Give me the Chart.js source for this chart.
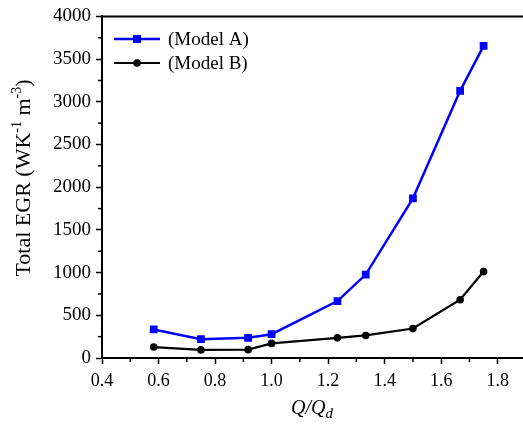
<!DOCTYPE html>
<html>
<head>
<meta charset="utf-8">
<script src="https://cdn.jsdelivr.net/npm/chart.js@4"></script>
<style>
  body { margin: 0; background: #fff; }
  canvas { display: block; }
</style>
</head>
<body>
<canvas id="myChart" width="523" height="430"></canvas>
<script>
// Q/Qd values
const ratios = [0.583, 0.75, 0.917, 1.0, 1.233, 1.333, 1.5, 1.667, 1.75];
const modelA = [334, 221, 236, 279, 667, 977, 1870, 3128, 3655];
const modelB = [128, 95, 98, 171, 236, 264, 345, 682, 1012];
const xTicks = [0.4, 0.6, 0.8, 1.0, 1.2, 1.4, 1.6, 1.8];
const yTicks = [0, 500, 1000, 1500, 2000, 2500, 3000, 3500, 4000];
const seriesNames = ['(Model A)', '(Model B)'];

const serif = "'Liberation Serif', 'Times New Roman', serif";

const toPoints = (vals) => vals.map((v, i) => ({ x: ratios[i], y: v }));

// frame, minor ticks, legend and axis titles
const extras = {
    id: 'extras',
    afterDraw(chart) {
        const ctx = chart.ctx;
        const area = chart.chartArea;
        const xs = chart.scales.x;
        const ys = chart.scales.y;
        ctx.save();
        ctx.strokeStyle = '#000';
        ctx.lineWidth = 2;
        ctx.beginPath();
        ctx.moveTo(area.left - 1, area.top);
        ctx.lineTo(chart.width, area.top);
        ctx.moveTo(area.right - 1, area.bottom);
        ctx.lineTo(chart.width, area.bottom);
        ctx.stroke();

        ctx.lineWidth = 1.5;
        for (let i = 0; i < xTicks.length; i++) {
            const v = xTicks[i] + 0.1;
            if (v > xs.max) break;
            const px = xs.getPixelForValue(v);
            ctx.beginPath();
            ctx.moveTo(px, area.bottom);
            ctx.lineTo(px, area.bottom + 4);
            ctx.stroke();
        }
        for (let i = 0; i < yTicks.length - 1; i++) {
            const py = ys.getPixelForValue(yTicks[i] + 250);
            ctx.beginPath();
            ctx.moveTo(area.left, py);
            ctx.lineTo(area.left - 4, py);
            ctx.stroke();
        }

        // legend
        chart.data.datasets.forEach((ds, i) => {
            const y = 39 + i * 24;
            ctx.strokeStyle = ds.borderColor;
            ctx.lineWidth = ds.borderWidth;
            ctx.beginPath();
            ctx.moveTo(114, y);
            ctx.lineTo(160, y);
            ctx.stroke();
            ctx.fillStyle = ds.pointBackgroundColor;
            if (ds.pointStyle === 'rect') {
                ctx.fillRect(133, y - 4, 8, 8);
            } else {
                ctx.beginPath();
                ctx.arc(137, y, 3.8, 0, Math.PI * 2);
                ctx.fill();
            }
            ctx.fillStyle = '#000';
            ctx.font = '19px ' + serif;
            ctx.textBaseline = 'middle';
            ctx.textAlign = 'left';
            ctx.fillText(seriesNames[i], 168, y + 1);
        });

        // y title with superscripts
        const parts = [
            ['Total EGR (WK', 22, 0],
            ['-1', 14, -9],
            [' m', 22, 0],
            ['-3', 14, -9],
            [')', 22, 0]
        ];
        let total = 0;
        parts.forEach(p => { ctx.font = p[1] + 'px ' + serif; total += ctx.measureText(p[0]).width; });
        ctx.translate(30, 178);
        ctx.rotate(-Math.PI / 2);
        ctx.textBaseline = 'alphabetic';
        let cx = -total / 2;
        parts.forEach(p => {
            ctx.font = p[1] + 'px ' + serif;
            ctx.fillText(p[0], cx, p[2]);
            cx += ctx.measureText(p[0]).width;
        });
        ctx.setTransform(1, 0, 0, 1, 0, 0);

        // x title Q/Qd
        const main = 'Q/Q';
        ctx.font = 'italic 20px ' + serif;
        const w1 = ctx.measureText(main).width;
        ctx.font = 'italic 15px ' + serif;
        const w2 = ctx.measureText('d').width;
        let sx = 312 - (w1 + w2) / 2;
        ctx.font = 'italic 20px ' + serif;
        ctx.fillText(main, sx, 414);
        ctx.font = 'italic 15px ' + serif;
        ctx.fillText('d', sx + w1, 418);
        ctx.restore();
    }
};

const ctx = document.getElementById('myChart').getContext('2d');
const myChart = new Chart(ctx, {
    type: 'line',
    data: {
        datasets: [{
            label: seriesNames[0],
            data: toPoints(modelA),
            borderColor: '#0000ff',
            backgroundColor: '#0000ff',
            pointBackgroundColor: '#0000ff',
            pointBorderColor: '#0000ff',
            pointStyle: 'rect',
            pointRadius: 5.5,
            pointBorderWidth: 0,
            borderWidth: 2.5,
            tension: 0
        }, {
            label: seriesNames[1],
            data: toPoints(modelB),
            borderColor: '#000000',
            backgroundColor: '#000000',
            pointBackgroundColor: '#000000',
            pointBorderColor: '#000000',
            pointStyle: 'circle',
            pointRadius: 3.8,
            pointBorderWidth: 0,
            borderWidth: 2.2,
            tension: 0
        }]
    },
    options: {
        responsive: false,
        animation: false,
        layout: { padding: { top: 14, right: 0, bottom: 0, left: 0 } },
        plugins: { legend: { display: false }, tooltip: { enabled: false } },
        scales: {
            x: {
                type: 'linear',
                min: 0.4,
                max: 1.87,
                afterBuildTicks: (scale) => { scale.ticks = xTicks.map(v => ({ value: v })); },
                afterFit: (scale) => { scale.height = 72; },
                ticks: {
                    color: '#000',
                    font: { family: serif, size: 18 },
                    padding: 6,
                    maxRotation: 0,
                    callback: (v) => v.toFixed(1)
                },
                grid: { drawOnChartArea: false, drawTicks: true, tickLength: 6, tickColor: '#000', tickWidth: 1.5 },
                border: { display: true, color: '#000', width: 2 }
            },
            y: {
                type: 'linear',
                min: 0,
                max: 4000,
                afterBuildTicks: (scale) => { scale.ticks = yTicks.map(v => ({ value: v })); },
                afterFit: (scale) => { scale.width = 102; },
                ticks: {
                    color: '#000',
                    font: { family: serif, size: 19 },
                    padding: 5,
                    callback: (v) => String(v)
                },
                grid: { drawOnChartArea: false, drawTicks: true, tickLength: 6, tickColor: '#000', tickWidth: 1.5 },
                border: { display: true, color: '#000', width: 2 }
            }
        }
    },
    plugins: [extras]
});
</script>
</body>
</html>
